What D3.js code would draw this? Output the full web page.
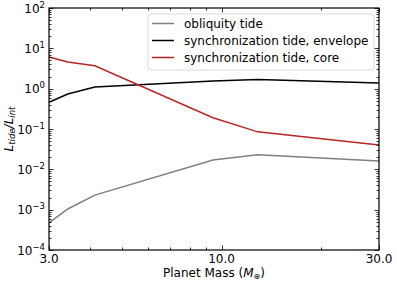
<!DOCTYPE html>
<html>
<head>
<meta charset="utf-8">
<script src="https://cdn.jsdelivr.net/npm/d3@7"></script>
<style>
body { margin: 0; background: #fff; }
text { font-family: "DejaVu Sans", sans-serif; fill: #000; }
</style>
</head>
<body>
<svg id="chart" width="397" height="283"></svg>
<script>
// masses (Earth masses)
var masses = [3.0, 3.42, 4.13, 9.42, 12.87, 30.0];

var obliquity = [4.7e-4, 1.04e-3, 2.3e-3, 0.017, 0.023, 0.016];
var syncEnvelope = [0.46, 0.74, 1.1, 1.55, 1.68, 1.38];
var syncCore = [6.1, 4.6, 3.7, 0.19, 0.085, 0.040];

var seriesNames = ["obliquity tide", "synchronization tide, envelope", "synchronization tide, core"];
var seriesColors = ["#808080", "#000000", "#b82525"];

var xTicks = [3, 10, 30];
var xMinor = [4, 5, 6, 7, 8, 9, 20];
var yExps = [-4, -3, -2, -1, 0, 1, 2];

var margin = { left: 49, right: 18, top: 8, bottom: 33 };
var W = 397, H = 283;
var pw = W - margin.left - margin.right;
var ph = H - margin.top - margin.bottom;

var svg = d3.select('#chart');
var g = svg.append('g')
	.attr('transform', 'translate(' + margin.left + ',' + margin.top + ')');

var x = d3.scaleLog().domain([3, 30]).range([0, pw]);
var y = d3.scaleLog().domain([1e-4, 1e2]).range([ph, 0]);

// y minor ticks: 2..9 in each decade
var yMinor = [];
yExps.slice(0, -1).forEach(function(e) {
	for (var k = 2; k < 10; k++) yMinor.push(k * Math.pow(10, e));
});

// lines
var line = d3.line()
	.x(function(d) { return x(d[0]); })
	.y(function(d) { return y(d[1]); });

var allSeries = [obliquity, syncEnvelope, syncCore];
allSeries.forEach(function(vals, i) {
	g.append('path')
		.datum(masses.map(function(m, j) { return [m, vals[j]]; }))
		.attr('d', line)
		.attr('fill', 'none')
		.attr('stroke', seriesColors[i])
		.attr('stroke-width', 1.5);
});

// ticks on all four sides, pointing inward
var major = 4.5, minor = 2.5;
function xTickMarks(vals, len) {
	vals.forEach(function(v) {
		var px = Math.round(x(v)) + 0.5;
		g.append('line').attr('x1', px).attr('x2', px).attr('y1', ph).attr('y2', ph - len)
			.attr('stroke', '#000').attr('stroke-width', 0.8);
		g.append('line').attr('x1', px).attr('x2', px).attr('y1', 0).attr('y2', len)
			.attr('stroke', '#000').attr('stroke-width', 0.8);
	});
}
function yTickMarks(vals, len) {
	vals.forEach(function(v) {
		var py = Math.round(y(v)) + 0.5;
		g.append('line').attr('x1', 0).attr('x2', len).attr('y1', py).attr('y2', py)
			.attr('stroke', '#000').attr('stroke-width', 0.8);
		g.append('line').attr('x1', pw).attr('x2', pw - len).attr('y1', py).attr('y2', py)
			.attr('stroke', '#000').attr('stroke-width', 0.8);
	});
}
xTickMarks(xTicks, major);
xTickMarks(xMinor, minor);
yTickMarks(yExps.map(function(e) { return Math.pow(10, e); }), major);
yTickMarks(yMinor, minor);

// frame
g.append('rect')
	.attr('x', 0).attr('y', 0).attr('width', pw).attr('height', ph)
	.attr('fill', 'none').attr('stroke', '#000').attr('stroke-width', 1.2);

// x tick labels
g.selectAll('.xlab').data(xTicks).enter()
	.append('text')
	.attr('x', function(d) { return x(d); })
	.attr('y', ph + 12.5)
	.attr('text-anchor', 'middle')
	.attr('font-size', '12px')
	.text(function(d) { return d.toFixed(1); });

// y tick labels 10^n
var ylab = g.selectAll('.ylab').data(yExps).enter()
	.append('text')
	.attr('x', -4)
	.attr('y', function(d) { return y(Math.pow(10, d)) + 4.5; })
	.attr('text-anchor', 'end')
	.attr('font-size', '12px');
ylab.append('tspan').text('10');
ylab.append('tspan')
	.attr('dy', -5)
	.attr('font-size', '8.5px')
	.text(function(d) { return d < 0 ? '\u2212' + (-d) : d; });

// axis titles
var xt = svg.append('text')
	.attr('x', margin.left + pw / 2)
	.attr('y', 277)
	.attr('text-anchor', 'middle')
	.attr('font-size', '12px');
xt.append('tspan').text('Planet Mass (');
xt.append('tspan').attr('font-style', 'italic').text('M');
xt.append('tspan').attr('font-size', '8px').attr('dy', 2).text('\u2295');
xt.append('tspan').attr('dy', -2).text(')');

var yt = svg.append('text')
	.attr('transform', 'translate(13,' + (margin.top + ph / 2) + ') rotate(-90)')
	.attr('text-anchor', 'middle')
	.attr('font-size', '12px')
	.attr('font-style', 'italic');
yt.append('tspan').text('L');
yt.append('tspan').attr('font-size', '8.5px').attr('dy', 2).text('tide');
yt.append('tspan').attr('dy', -2).text('/L');
yt.append('tspan').attr('font-size', '8.5px').attr('dy', 2).text('int');

// legend
var lg = svg.append('g').attr('transform', 'translate(148,14)');
lg.append('rect')
	.attr('width', 226).attr('height', 56)
	.attr('rx', 3)
	.attr('fill', '#fff').attr('fill-opacity', 0.8)
	.attr('stroke', '#d0d0d0').attr('stroke-width', 0.8);
seriesNames.forEach(function(name, i) {
	var ry = 9.5 + i * 17;
	lg.append('line')
		.attr('x1', 4).attr('x2', 26).attr('y1', ry).attr('y2', ry)
		.attr('stroke', seriesColors[i]).attr('stroke-width', 1.5);
	lg.append('text')
		.attr('x', 36).attr('y', ry + 4.5)
		.attr('font-size', '12px')
		.text(name);
});
</script>
</body>
</html>
